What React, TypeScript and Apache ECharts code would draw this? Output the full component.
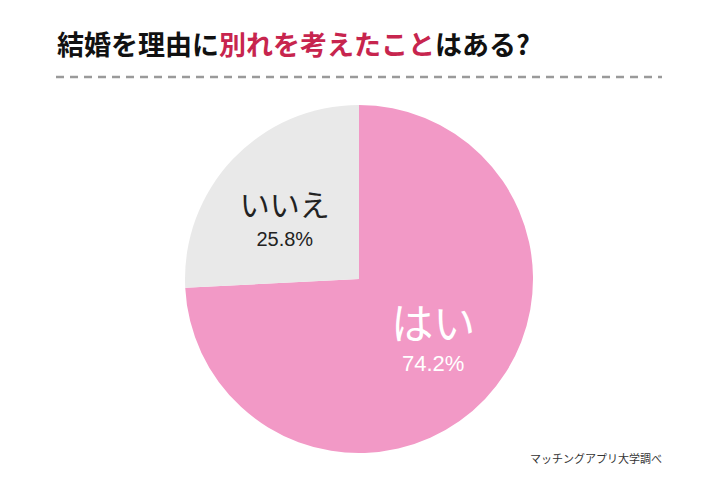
import React, { useEffect, useRef } from "react";
import * as echarts from "echarts";

const categories = ["はい", "いいえ"];
const values = [74.2, 25.8];
const sliceColors = ["#f299c6", "#e9e9e9"];
const titleParts = ["結婚を理由に", "別れを考えたこと", "はある?"];
const sourceText = "マッチングアプリ大学調べ";

export default function App() {
  const ref = useRef<HTMLDivElement>(null);
  useEffect(() => {
    if (!ref.current) return;
    document.body.style.margin = "0";
    const chart = echarts.init(ref.current, undefined, { renderer: "svg" });
    const jp = "'Noto Sans CJK JP', 'Noto Sans', sans-serif";
    const num = "'Liberation Sans', Arial, sans-serif";
    const labelStyles = [
      {
        padding: [0, 0, 0, 18],
        rich: {
          big: { fontSize: 42, fontFamily: jp, color: "#ffffff", lineHeight: 44, align: "center" },
          pct: { fontSize: 22, fontFamily: num, color: "#ffffff", lineHeight: 42, align: "center" },
        },
      },
      {
        padding: [8, 18, 0, 0],
        rich: {
          big: { fontSize: 30, fontFamily: jp, color: "#222222", lineHeight: 36, align: "center" },
          pct: { fontSize: 20, fontFamily: num, color: "#222222", lineHeight: 36, align: "center" },
        },
      },
    ];
    chart.setOption({
      animation: false,
      backgroundColor: "#ffffff",
      graphic: [
        {
          type: "text",
          left: 57,
          top: 30,
          style: {
            text: `{b|${titleParts[0]}}{r|${titleParts[1]}}{b|${titleParts[2]}}`,
            rich: {
              b: { fontSize: 27, fontWeight: "bold", fontFamily: jp, fill: "#111111" },
              r: { fontSize: 27, fontWeight: "bold", fontFamily: jp, fill: "#c7254e" },
            },
          },
        },
        {
          type: "line",
          shape: { x1: 56, y1: 77, x2: 662, y2: 77 },
          style: { stroke: "#9a9a9a", lineWidth: 2.5, lineDash: [8, 6] },
        },
        {
          type: "text",
          right: 58,
          top: 452,
          style: { text: sourceText, fontSize: 11, fontFamily: jp, fill: "#333333" },
        },
      ],
      series: [
        {
          type: "pie",
          center: [359, 279],
          radius: 174,
          startAngle: 90,
          clockwise: true,
          silent: true,
          labelLine: { show: false },
          itemStyle: { borderWidth: 0 },
          data: categories.map((name, i) => ({
            name,
            value: values[i],
            itemStyle: { color: sliceColors[i] },
            label: {
              show: true,
              position: "inside",
              formatter: (p: any) => `{big|${p.name}}\n{pct|${p.value.toFixed(1)}%}`,
              ...labelStyles[i],
            },
          })),
        },
      ],
    });
    return () => chart.dispose();
  }, []);
  return <div ref={ref} style={{ width: 720, height: 480 }} />;
}
